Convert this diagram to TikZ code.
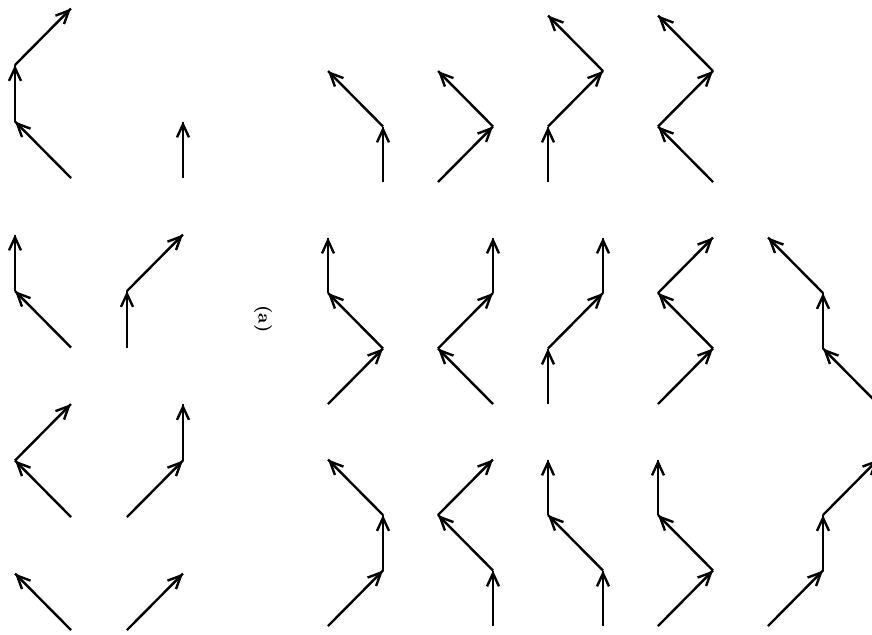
\documentclass[tikz,border=0pt]{standalone}
\usepackage{tikz}
\usetikzlibrary{arrows.meta}
\usetikzlibrary{decorations.markings}

\begin{document}
\begin{tikzpicture}[x=0.5pt,y=-0.5pt,very thick,
  >={Straight Barb[length=6.5pt,width=6pt]}]
\clip (0,0) rectangle (872,634);
\node[rotate=-90,font=\small\bfseries] (lbl) at (263,319) {(a)};
% left block
\begin{scope}[shift={(15,178)},x=28pt,y=28.25pt,decoration={
  markings,
  mark=at position 1 with {\arrow{>}}},
  arr/.style={postaction={decorate}}
  ]
  \draw[arr] (1,0)--(0,1); \draw[arr] (0,1)--(0,2); \draw[arr] (0,2)--(1,3);
  \draw[arr] (3,0)--(3,1);
  \draw[arr] (1,-3)--(0,-2); \draw[arr] (0,-2)--(0,-1);
  \draw[arr] (2,-3)--(2,-2); \draw[arr] (2,-2)--(3,-1);
  \draw[arr] (1,-6)--(0,-5); \draw[arr] (0,-5)--(1,-4);
  \draw[arr] (2,-6)--(3,-5); \draw[arr] (3,-5)--(3,-4);
  \draw[arr] (1,-8)--(0,-7);
  \draw[arr] (2,-8)--(3,-7);
\end{scope}
% right block
\begin{scope}[shift={(328,182)},x=27.5pt,y=27.75pt,decoration={
  markings,
  mark=at position 1 with {\arrow{>}}},
  arr/.style={postaction={decorate}}
  ]
  \draw[arr] (1,0)--(1,1); \draw[arr] (1,1)--(0,2);
  \draw[arr] (2,0)--(3,1); \draw[arr] (3,1)--(2,2);
  \draw[arr] (4,0)--(4,1); \draw[arr] (4,1)--(5,2); \draw[arr] (5,2)--(4,3);
  \draw[arr] (7,0)--(6,1); \draw[arr] (6,1)--(7,2); \draw[arr] (7,2)--(6,3);
  % second row
  \draw[arr] (0,-4)--(1,-3); \draw[arr] (1,-3)--(0,-2); \draw[arr] (0,-2)--(0,-1);
  \draw[arr] (3,-4)--(2,-3); \draw[arr] (2,-3)--(3,-2); \draw[arr] (3,-2)--(3,-1);
  \draw[arr] (4,-4)--(4,-3); \draw[arr] (4,-3)--(5,-2); \draw[arr] (5,-2)--(5,-1);
  \draw[arr] (6,-4)--(7,-3); \draw[arr] (7,-3)--(6,-2); \draw[arr] (6,-2)--(7,-1);
  \draw[arr] (10,-4)--(9,-3); \draw[arr] (9,-3)--(9,-2); \draw[arr] (9,-2)--(8,-1);
  % third row
  \draw[arr] (0,-8)--(1,-7); \draw[arr] (1,-7)--(1,-6); \draw[arr] (1,-6)--(0,-5);
  \draw[arr] (3,-8)--(3,-7); \draw[arr] (3,-7)--(2,-6); \draw[arr] (2,-6)--(3,-5);
  \draw[arr] (5,-8)--(5,-7); \draw[arr] (5,-7)--(4,-6); \draw[arr] (4,-6)--(4,-5);
  \draw[arr] (6,-8)--(7,-7); \draw[arr] (7,-7)--(6,-6); \draw[arr] (6,-6)--(6,-5);
  \draw[arr] (8,-8)--(9,-7); \draw[arr] (9,-7)--(9,-6); \draw[arr] (9,-6)--(10,-5);
\end{scope}
\end{tikzpicture}
\end{document}
